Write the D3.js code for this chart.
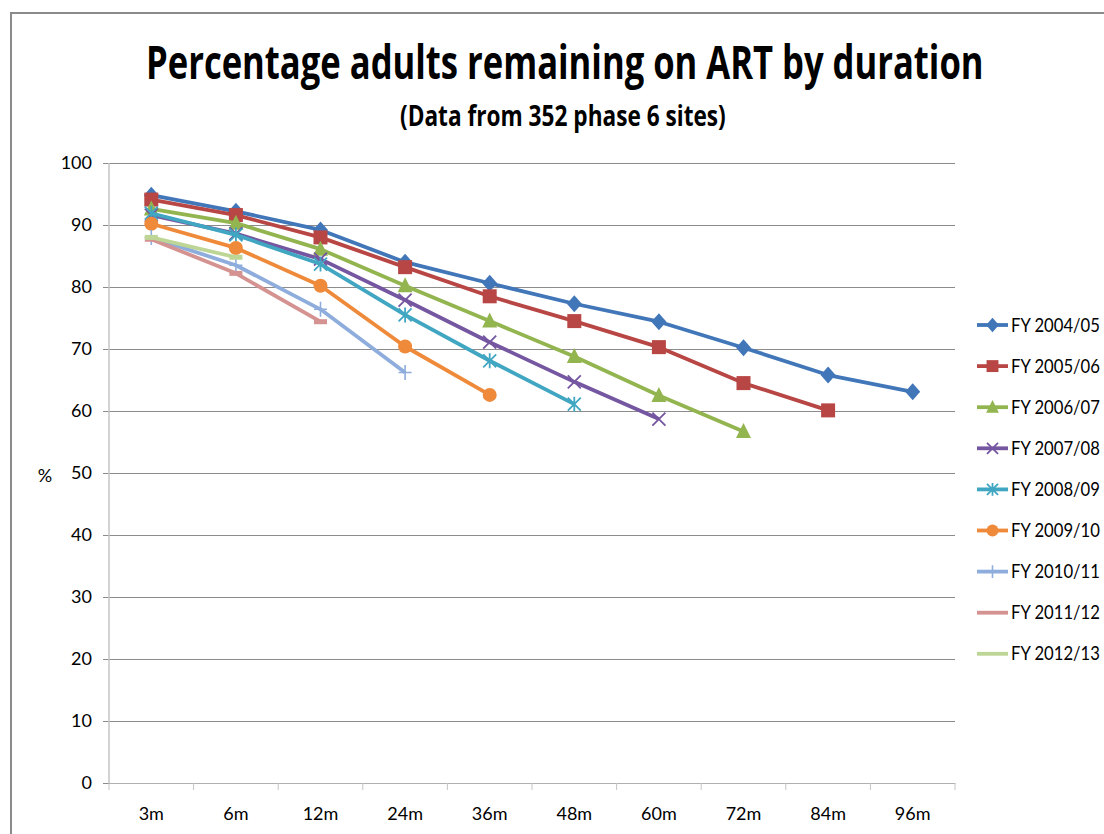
<!DOCTYPE html>
<html>
<head>
<meta charset="utf-8">
<script src="https://cdn.jsdelivr.net/npm/d3@7/dist/d3.min.js"></script>
<style>
  html, body { margin: 0; padding: 0; background: #fff; }
  svg { display: block; }
</style>
</head>
<body>
<svg id="chart" width="1104" height="834"></svg>
<script>
// ---- data ----
const categories = ["3m", "6m", "12m", "24m", "36m", "48m", "60m", "72m", "84m", "96m"];
const yTicks = [0, 10, 20, 30, 40, 50, 60, 70, 80, 90, 100];
const seriesNames = ["FY 2004/05", "FY 2005/06", "FY 2006/07", "FY 2007/08", "FY 2008/09",
                     "FY 2009/10", "FY 2010/11", "FY 2011/12", "FY 2012/13"];
const fy0405 = [94.8, 92.2, 89.2, 84.0, 80.6, 77.3, 74.4, 70.2, 65.8, 63.1];
const fy0506 = [94.1, 91.6, 88.0, 83.2, 78.5, 74.5, 70.3, 64.5, 60.1];
const fy0607 = [92.6, 90.3, 86.1, 80.2, 74.5, 68.8, 62.5, 56.7];
const fy0708 = [91.6, 88.6, 84.5, 77.9, 71.1, 64.7, 58.7];
const fy0809 = [91.9, 88.4, 83.7, 75.5, 68.1, 61.1];
const fy0910 = [90.2, 86.3, 80.2, 70.4, 62.6];
const fy1011 = [88.0, 83.5, 76.4, 66.2];
const fy1112 = [87.7, 82.2, 74.4];
const fy1213 = [88.0, 84.8];
const seriesValues = [fy0405, fy0506, fy0607, fy0708, fy0809, fy0910, fy1011, fy1112, fy1213];
const colors = ["#4176B8", "#B84644", "#93B550", "#7556A0", "#40A6C2", "#EE8A3A", "#8EADDC", "#D49290", "#BDD595"];
const markers = ["diamond", "square", "triangle", "x", "asterisk", "circle", "plus", "dash", "dash"];

// ---- layout ----
const svg = d3.select("#chart");
const W = 1104, H = 834;
const plot = { left: 109, right: 955, top: 163, bottom: 783 };

const x = d3.scaleBand().domain(categories).range([plot.left, plot.right]).padding(0);
const y = d3.scaleLinear().domain([0, 100]).range([plot.bottom, plot.top]);
const cx = c => x(c) + x.bandwidth() / 2;

// fit a text horizontally to a target width by scaling x around its left edge
function fitText(sel, left, baseline, width) {
  const natural = sel.node().getComputedTextLength();
  const k = width / natural;
  sel.attr("x", 0).attr("y", 0)
     .attr("transform", `translate(${left},${baseline}) scale(${k},1)`);
}

// frame
svg.append("rect").attr("x", 11).attr("y", 13).attr("width", W).attr("height", H)
  .attr("fill", "none").attr("stroke", "#8a8a8a").attr("stroke-width", 2);

// title
const t1 = svg.append("text")
  .style("font-family", "'Open Sans', sans-serif").style("font-weight", "bold")
  .style("font-size", "46px").attr("fill", "#000")
  .text("Percentage adults remaining on ART by duration");
fitText(t1, 146, 79, 838);
const t2 = svg.append("text")
  .style("font-family", "'Open Sans', sans-serif").style("font-weight", "bold")
  .style("font-size", "29px").attr("fill", "#000")
  .text("(Data from 352 phase 6 sites)");
fitText(t2, 400, 126, 326);

// gridlines
const yAxis = d3.axisLeft(y).tickValues(yTicks).tickSize(-(plot.right - plot.left)).tickPadding(17);
const gy = svg.append("g").attr("transform", `translate(${plot.left},0)`).call(yAxis);
gy.select(".domain").remove();
gy.selectAll(".tick line").attr("stroke", "#8c8c8c").attr("stroke-width", 1.2).attr("x1", -6);
gy.selectAll(".tick text")
  .style("font-family", "Lato, sans-serif").style("font-size", "18px").attr("fill", "#000");

// y axis line
svg.append("line").attr("x1", plot.left).attr("x2", plot.left)
  .attr("y1", plot.top).attr("y2", plot.bottom)
  .attr("stroke", "#c4c4c4").attr("stroke-width", 1.5);

// x axis
const xAxis = d3.axisBottom(x).tickSize(0).tickPadding(24);
const gx = svg.append("g").attr("transform", `translate(0,${plot.bottom})`).call(xAxis);
gx.select(".domain").attr("stroke", "#b0b0b0").attr("stroke-width", 1.2);
gx.selectAll(".tick text")
  .style("font-family", "Lato, sans-serif").style("font-size", "18px").attr("fill", "#000");
// x tick marks at band boundaries
const bounds = categories.map(c => x(c)).concat([plot.right]);
svg.append("g").selectAll("line").data(bounds).join("line")
  .attr("x1", d => d).attr("x2", d => d)
  .attr("y1", plot.bottom).attr("y2", plot.bottom + 7)
  .attr("stroke", "#c4c4c4").attr("stroke-width", 1);

// y label
svg.append("text").attr("x", 45).attr("y", 482).attr("text-anchor", "middle")
  .style("font-family", "Lato, sans-serif").style("font-size", "18px").text("%");

// marker drawing
function drawMarker(g, type, color, px, py, scale = 1) {
  const s = scale;
  switch (type) {
    case "diamond":
      g.append("path").attr("d", `M${px},${py - 8.5 * s}L${px + 7.5 * s},${py}L${px},${py + 8.5 * s}L${px - 7.5 * s},${py}Z`)
        .attr("fill", color);
      break;
    case "square":
      g.append("rect").attr("x", px - 7 * s).attr("y", py - 7 * s)
        .attr("width", 14 * s).attr("height", 14 * s).attr("fill", color);
      break;
    case "triangle":
      g.append("path").attr("d", `M${px},${py - 8.5 * s}L${px + 7.5 * s},${py + 6.5 * s}L${px - 7.5 * s},${py + 6.5 * s}Z`)
        .attr("fill", color);
      break;
    case "circle":
      g.append("circle").attr("cx", px).attr("cy", py).attr("r", 7 * s).attr("fill", color);
      break;
    case "x":
      g.append("path").attr("d", `M${px - 6.5 * s},${py - 6.5 * s}L${px + 6.5 * s},${py + 6.5 * s}M${px - 6.5 * s},${py + 6.5 * s}L${px + 6.5 * s},${py - 6.5 * s}`)
        .attr("stroke", color).attr("stroke-width", 1.8).attr("fill", "none");
      break;
    case "asterisk":
      g.append("path").attr("d", `M${px - 6.5 * s},${py - 6.5 * s}L${px + 6.5 * s},${py + 6.5 * s}M${px - 6.5 * s},${py + 6.5 * s}L${px + 6.5 * s},${py - 6.5 * s}M${px},${py - 7.5 * s}L${px},${py + 7.5 * s}`)
        .attr("stroke", color).attr("stroke-width", 1.8).attr("fill", "none");
      break;
    case "plus":
      g.append("path").attr("d", `M${px - 6.5 * s},${py}L${px + 6.5 * s},${py}M${px},${py - 7.5 * s}L${px},${py + 7.5 * s}`)
        .attr("stroke", color).attr("stroke-width", 1.6).attr("fill", "none");
      break;
    case "dash":
      g.append("rect").attr("x", px - 6.5 * s).attr("y", py - 2.5).attr("width", 13 * s).attr("height", 5)
        .attr("fill", color);
      break;
  }
}

// series
const line = d3.line().x((d, i) => cx(categories[i])).y(d => y(d));
seriesValues.forEach((vals, k) => {
  const g = svg.append("g");
  g.append("path").datum(vals).attr("d", line)
    .attr("fill", "none").attr("stroke", colors[k]).attr("stroke-width", 3.8)
    .attr("stroke-linejoin", "round");
  vals.forEach((v, i) => drawMarker(g, markers[k], colors[k], cx(categories[i]), y(v)));
});

// legend
const leg = svg.append("g");
seriesNames.forEach((name, k) => {
  const ly = 325 + k * 41.1;
  leg.append("line").attr("x1", 977).attr("x2", 1008).attr("y1", ly).attr("y2", ly)
    .attr("stroke", colors[k]).attr("stroke-width", 3.8);
  if (markers[k] !== "dash") drawMarker(leg, markers[k], colors[k], 992.5, ly, 0.85);
  const lt = leg.append("text")
    .style("font-family", "Lato, sans-serif").style("font-size", "18.5px").attr("fill", "#000")
    .text(name);
  fitText(lt, 1011, ly + 6.5, 89);
});
</script>
</body>
</html>
